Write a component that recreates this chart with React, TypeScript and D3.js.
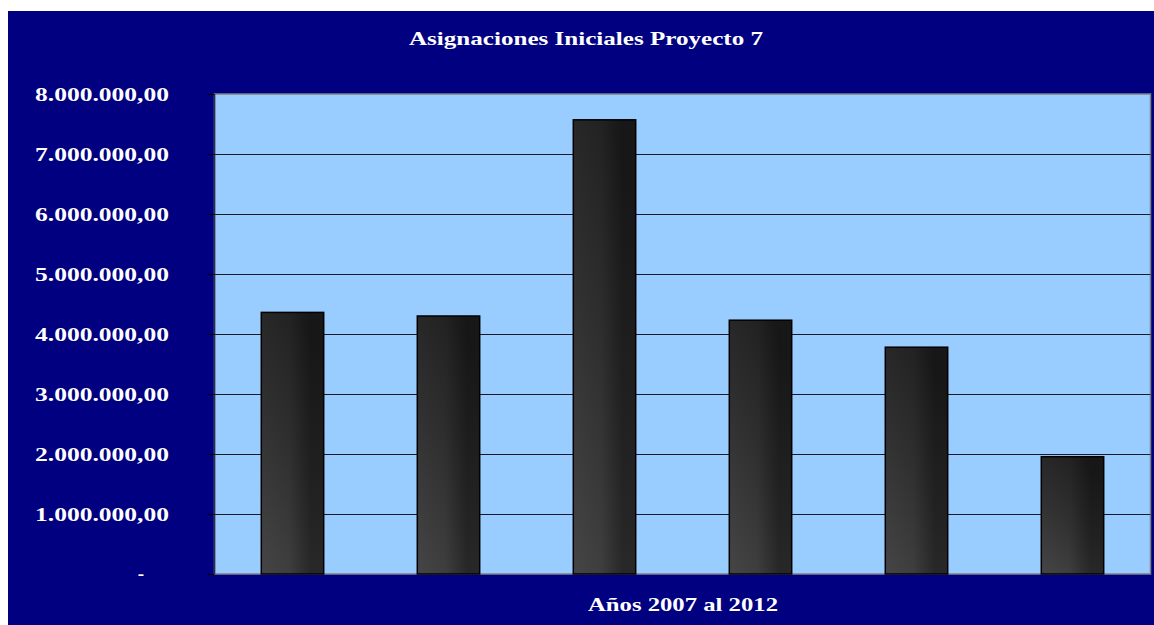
import React from "react";
import * as d3 from "d3";

const categories = ["2007", "2008", "2009", "2010", "2011", "2012"];
const values = [4360000, 4300000, 7570000, 4230000, 3780000, 1955000];
const yTicks = [0, 1000000, 2000000, 3000000, 4000000, 5000000, 6000000, 7000000, 8000000];
const title = "Asignaciones Iniciales Proyecto 7";
const xTitle = "Años 2007 al 2012";

const W = 1154;
const H = 625;
const plot = { left: 214.5, right: 1150.5, top: 94, bottom: 574 };

function fmt(v: number): string {
  if (v === 0) return "-";
  const s = Math.round(v).toString().replace(/\B(?=(\d{3})+(?!\d))/g, ".");
  return s + ",00";
}

export default function App() {
  const x = d3
    .scaleBand<string>()
    .domain(categories)
    .range([plot.left, plot.right])
    .paddingInner(0.6)
    .paddingOuter(0.3);
  const y = d3.scaleLinear().domain([0, 8000000]).range([plot.bottom, plot.top]);
  const font = "'Liberation Serif', 'Times New Roman', serif";

  return (
    <svg
      width={W}
      height={H}
      style={{ position: "absolute", left: 0, top: 0, display: "block" }}
    >
      <defs>
        <linearGradient id="barGrad" x1="0.1" y1="1" x2="0.6" y2="0">
          <stop offset="0" stopColor="#444444" />
          <stop offset="0.5" stopColor="#303030" />
          <stop offset="1" stopColor="#202020" />
        </linearGradient>
        <linearGradient id="barShade" x1="0" y1="0" x2="1" y2="0">
          <stop offset="0" stopColor="#000" stopOpacity="0" />
          <stop offset="0.45" stopColor="#000" stopOpacity="0" />
          <stop offset="0.8" stopColor="#000" stopOpacity="0.3" />
          <stop offset="1" stopColor="#000" stopOpacity="0.25" />
        </linearGradient>
      </defs>
      <rect x={0} y={0} width={W} height={H} fill="#ffffff" />
      <rect x={8} y={11} width={W - 8} height={H - 11} fill="#000080" />

      <text
        x={586}
        y={45}
        fill="#ffffff"
        fontFamily={font}
        fontWeight="bold"
        fontSize={19}
        textAnchor="middle"
        textLength={354}
        lengthAdjust="spacingAndGlyphs"
      >
        {title}
      </text>

      <rect
        x={plot.left}
        y={plot.top}
        width={plot.right - plot.left}
        height={plot.bottom - plot.top}
        fill="#99ccff"
        stroke="#808080"
        strokeWidth={1.5}
      />

      {yTicks
        .filter((t) => t !== 0 && t !== 8000000)
        .map((t) => (
          <line
            key={"g" + t}
            x1={plot.left}
            x2={plot.right}
            y1={Math.round(y(t)) + 0.5}
            y2={Math.round(y(t)) + 0.5}
            stroke="#1a1a2a"
            strokeWidth={1}
          />
        ))}

      <line
        x1={plot.left}
        x2={plot.left}
        y1={plot.top}
        y2={plot.bottom}
        stroke="#2a2a50"
        strokeWidth={1.5}
      />

      {yTicks.map((t) => (
        <g key={"t" + t}>
          <line
            x1={plot.left - 7}
            x2={plot.left}
            y1={Math.round(y(t)) + 0.5}
            y2={Math.round(y(t)) + 0.5}
            stroke="#000000"
            strokeWidth={1}
          />
          {t === 0 ? (
            <text
              x={141}
              y={y(t) + 6}
              fill="#ffffff"
              fontFamily={font}
              fontWeight="bold"
              fontSize={19}
              textAnchor="middle"
            >
              {fmt(t)}
            </text>
          ) : (
            <text
              x={169}
              y={y(t) + 6.5}
              fill="#ffffff"
              fontFamily={font}
              fontWeight="bold"
              fontSize={19}
              textAnchor="end"
              textLength={134}
              lengthAdjust="spacingAndGlyphs"
            >
              {fmt(t)}
            </text>
          )}
        </g>
      ))}

      {categories.map((c, i) => {
        const bx = x(c)!;
        const bw = x.bandwidth();
        const by = y(values[i]);
        const bh = y(0) - by;
        return (
          <g key={c}>
            <rect x={bx} y={by} width={bw} height={bh} fill="url(#barGrad)" />
            <rect x={bx} y={by} width={bw} height={bh} fill="url(#barShade)" />
            <rect
              x={bx}
              y={by}
              width={bw}
              height={bh}
              fill="none"
              stroke="#000000"
              strokeWidth={1.5}
            />
          </g>
        );
      })}

      <text
        x={683}
        y={611}
        fill="#ffffff"
        fontFamily={font}
        fontWeight="bold"
        fontSize={19}
        textAnchor="middle"
        textLength={190}
        lengthAdjust="spacingAndGlyphs"
      >
        {xTitle}
      </text>
    </svg>
  );
}
